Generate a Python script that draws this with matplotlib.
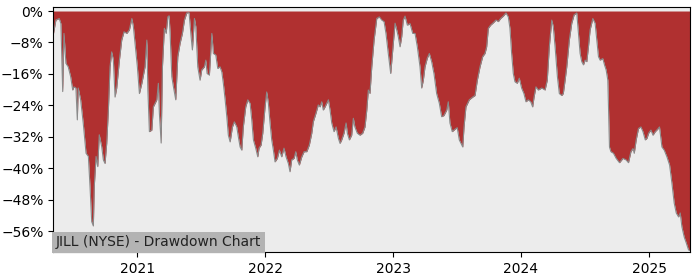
#!/usr/bin/env python3
"""JILL drawdown chart"""
import numpy as np
import pandas as pd
import matplotlib
matplotlib.use('Agg')
import matplotlib.pyplot as plt
import matplotlib.dates as mdates
from matplotlib.ticker import MultipleLocator, PercentFormatter

# time as decimal years, drawdown in percent
years = [
    2020.346, 2020.367, 2020.393, 2020.406, 2020.420, 2020.430, 2020.445, 2020.463, 2020.482, 2020.498,
    2020.508, 2020.523, 2020.534, 2020.541, 2020.560, 2020.580, 2020.602, 2020.620, 2020.633, 2020.646,
    2020.659, 2020.666, 2020.680, 2020.693, 2020.705, 2020.724, 2020.737, 2020.750, 2020.763, 2020.776,
    2020.789, 2020.802, 2020.815, 2020.828, 2020.841, 2020.862, 2020.880, 2020.898, 2020.920, 2020.940,
    2020.959, 2020.971, 2020.984, 2021.002, 2021.018, 2021.037, 2021.062, 2021.076, 2021.084, 2021.096,
    2021.115, 2021.127, 2021.154, 2021.166, 2021.174, 2021.188, 2021.198, 2021.213, 2021.227, 2021.240,
    2021.250, 2021.258, 2021.271, 2021.284, 2021.302, 2021.318, 2021.336, 2021.354, 2021.370, 2021.388,
    2021.406, 2021.422, 2021.432, 2021.448, 2021.459, 2021.474, 2021.492, 2021.505, 2021.526, 2021.537,
    2021.547, 2021.565, 2021.584, 2021.596, 2021.615, 2021.630, 2021.648, 2021.662, 2021.674, 2021.688,
    2021.701, 2021.713, 2021.727, 2021.745, 2021.760, 2021.779, 2021.791, 2021.805, 2021.818, 2021.830,
    2021.849, 2021.865, 2021.883, 2021.896, 2021.909, 2021.927, 2021.943, 2021.953, 2021.969, 2021.982,
    2022.000, 2022.013, 2022.026, 2022.039, 2022.052, 2022.065, 2022.078, 2022.096, 2022.112, 2022.130,
    2022.148, 2022.164, 2022.182, 2022.195, 2022.208, 2022.227, 2022.240, 2022.252, 2022.268, 2022.287,
    2022.305, 2022.326, 2022.346, 2022.365, 2022.377, 2022.398, 2022.416, 2022.430, 2022.443, 2022.455,
    2022.469, 2022.482, 2022.495, 2022.508, 2022.521, 2022.539, 2022.555, 2022.573, 2022.586, 2022.599,
    2022.617, 2022.633, 2022.643, 2022.659, 2022.677, 2022.690, 2022.702, 2022.721, 2022.742, 2022.763,
    2022.781, 2022.795, 2022.807, 2022.820, 2022.834, 2022.852, 2022.873, 2022.893, 2022.912, 2022.930,
    2022.945, 2022.963, 2022.982, 2022.998, 2023.016, 2023.029, 2023.041, 2023.055, 2023.068, 2023.080,
    2023.094, 2023.112, 2023.133, 2023.154, 2023.172, 2023.190, 2023.211, 2023.224, 2023.237, 2023.250,
    2023.268, 2023.284, 2023.302, 2023.320, 2023.341, 2023.362, 2023.380, 2023.398, 2023.420, 2023.432,
    2023.445, 2023.463, 2023.484, 2023.502, 2023.518, 2023.545, 2023.555, 2023.570, 2023.596, 2023.623,
    2023.641, 2023.659, 2023.680, 2023.701, 2023.719, 2023.732, 2023.745, 2023.763, 2023.784, 2023.805,
    2023.823, 2023.841, 2023.862, 2023.883, 2023.901, 2023.914, 2023.927, 2023.940, 2023.953, 2023.971,
    2023.987, 2024.005, 2024.023, 2024.039, 2024.057, 2024.076, 2024.091, 2024.102, 2024.117, 2024.135,
    2024.162, 2024.188, 2024.205, 2024.221, 2024.240, 2024.252, 2024.266, 2024.284, 2024.299, 2024.318,
    2024.330, 2024.344, 2024.357, 2024.377, 2024.396, 2024.414, 2024.435, 2024.448, 2024.461, 2024.474,
    2024.487, 2024.500, 2024.513, 2024.526, 2024.539, 2024.560, 2024.578, 2024.591, 2024.604, 2024.617,
    2024.638, 2024.651, 2024.664, 2024.677, 2024.690, 2024.701, 2024.721, 2024.742, 2024.768, 2024.795,
    2024.820, 2024.838, 2024.857, 2024.873, 2024.883, 2024.898, 2024.916, 2024.935, 2024.951, 2024.969,
    2024.982, 2024.995, 2025.013, 2025.029, 2025.047, 2025.065, 2025.080, 2025.099, 2025.117, 2025.138,
    2025.159, 2025.177, 2025.195, 2025.211, 2025.229, 2025.242, 2025.255, 2025.273, 2025.289, 2025.307,
    2025.320,
]
drawdown = [
    -6.1, -2.3, -1.9, -3.2, -20.5, -5.7, -13.3, -14.2, -16.7, -20.1,
    -19.3, -19.6, -27.7, -19.6, -22.6, -28.5, -36.2, -37.0, -44.7, -53.6,
    -54.7, -44.7, -37.0, -39.6, -31.5, -34.5, -37.9, -38.8, -33.7, -25.2,
    -14.2, -10.4, -12.5, -21.9, -19.6, -12.5, -7.4, -5.3, -5.7, -4.8,
    -1.9, -4.0, -8.2, -14.2, -21.0, -18.4, -14.2, -7.4, -20.0, -30.7,
    -30.3, -24.4, -22.6, -18.4, -26.0, -33.6, -14.2, -4.4, -5.7, -1.5,
    -1.2, -5.7, -16.7, -19.3, -22.6, -11.6, -8.2, -5.7, -2.3, -0.5,
    -0.4, -6.5, -9.9, -1.9, -4.0, -14.2, -17.6, -15.0, -14.2, -12.5,
    -15.9, -16.3, -5.7, -10.8, -11.2, -14.6, -14.2, -15.5, -18.4, -22.6,
    -26.9, -31.6, -33.3, -29.5, -28.2, -29.5, -32.0, -34.6, -35.4, -29.5,
    -24.4, -22.6, -23.5, -27.7, -32.8, -34.9, -37.1, -34.9, -34.1, -31.1,
    -24.4, -20.6, -23.5, -28.5, -32.8, -35.4, -38.4, -37.5, -35.4, -37.1,
    -34.9, -37.1, -38.8, -40.9, -37.9, -37.5, -35.8, -37.9, -39.2, -37.1,
    -35.8, -35.8, -34.1, -31.1, -28.2, -26.0, -23.9, -24.4, -23.1, -25.2,
    -24.4, -23.5, -22.6, -25.2, -28.5, -30.7, -29.5, -32.4, -33.7, -32.8,
    -31.1, -28.5, -31.1, -32.8, -31.6, -27.3, -29.5, -31.1, -31.6, -31.1,
    -29.5, -25.2, -20.1, -21.0, -14.2, -7.4, -1.9, -1.5, -2.3, -2.7,
    -5.7, -10.8, -15.9, -9.9, -3.1, -4.8, -6.5, -9.1, -6.5, -2.3,
    -1.3, -3.6, -3.2, -5.7, -5.7, -9.1, -14.2, -19.6, -17.6, -14.2,
    -12.0, -10.8, -12.9, -15.9, -21.0, -23.5, -26.9, -26.6, -25.2, -23.1,
    -28.5, -30.7, -30.1, -29.7, -32.8, -34.6, -29.5, -24.4, -22.6, -21.9,
    -21.5, -17.6, -14.2, -11.6, -10.8, -9.1, -4.4, -3.6, -3.0, -2.3,
    -2.7, -1.9, -1.3, -0.5, -1.5, -4.4, -10.8, -15.9, -18.0, -18.4,
    -17.1, -19.6, -21.0, -23.1, -22.6, -23.1, -24.4, -21.9, -19.3, -20.1,
    -19.6, -20.1, -17.6, -9.1, -2.3, -4.0, -9.1, -16.7, -21.0, -21.5,
    -21.0, -17.6, -14.2, -7.4, -3.1, -1.0, -0.5, -5.7, -10.8, -12.9,
    -13.7, -12.5, -12.9, -9.1, -4.8, -1.9, -3.1, -7.4, -11.6, -12.5,
    -12.1, -13.7, -15.0, -17.6, -34.6, -35.8, -36.2, -37.5, -38.6, -37.5,
    -37.9, -38.6, -35.8, -35.0, -36.2, -32.8, -29.9, -29.5, -30.7, -32.8,
    -32.4, -31.1, -30.3, -31.6, -30.7, -30.1, -29.5, -34.6, -35.4, -37.1,
    -39.2, -43.8, -48.9, -51.4, -52.4, -51.4, -54.9, -57.5, -59.0, -60.8,
    -61.0,
]

title = 'JILL (NYSE) - Drawdown Chart'


def decimal_year_to_date(y):
    yr = int(np.floor(y))
    start = pd.Timestamp(yr, 1, 1)
    end = pd.Timestamp(yr + 1, 1, 1)
    return start + (end - start) * (y - yr)


dates = [decimal_year_to_date(y) for y in years]
dd = np.array(drawdown)

fig = plt.figure(figsize=(7, 2.8), dpi=100)
ax = fig.add_axes([0.076, 0.099, 0.910, 0.875])
ax.set_facecolor('#ececec')

ax.fill_between(dates, dd, 0, color='#b03030', linewidth=0)
ax.plot(dates, dd, color='#8a8a8a', linewidth=0.8)

ax.set_xlim(dates[0], dates[-1])
ax.set_ylim(-61.4, 0.95)
ax.yaxis.set_major_locator(MultipleLocator(8))
ax.yaxis.set_major_formatter(PercentFormatter(xmax=100, decimals=0))
ax.xaxis.set_major_locator(mdates.YearLocator())
ax.xaxis.set_major_formatter(mdates.DateFormatter('%Y'))

ax.text(0.004, 0.012, title, transform=ax.transAxes, fontsize=10,
        ha='left', va='bottom', color='#222222',
        bbox=dict(facecolor='#b3b3b3', edgecolor='none', pad=2.5))

fig.savefig('out.png')
plt.close(fig)
